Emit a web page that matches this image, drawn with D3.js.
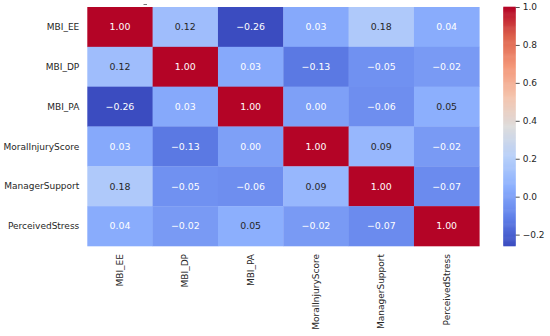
<!DOCTYPE html>
<html>
<head>
<meta charset="utf-8">
<script src="https://cdn.jsdelivr.net/npm/d3@7"></script>
<style>
  html, body { margin: 0; padding: 0; background: #fff; }
  svg { display: block; font-family: "DejaVu Sans", sans-serif; }
</style>
</head>
<body>
<div id="chart"></div>
<script>
(function() {
  "use strict";

  var variables = ["MBI_EE", "MBI_DP", "MBI_PA", "MoralInjuryScore", "ManagerSupport", "PerceivedStress"];

  var rowMBI_EE = [1.00, 0.12, -0.26, 0.03, 0.18, 0.04];
  var rowMBI_DP = [0.12, 1.00, 0.03, -0.13, -0.05, -0.02];
  var rowMBI_PA = [-0.26, 0.03, 1.00, 0.00, -0.06, 0.05];
  var rowMoral = [0.03, -0.13, 0.00, 1.00, 0.09, -0.02];
  var rowManager = [0.18, -0.05, -0.06, 0.09, 1.00, -0.07];
  var rowStress = [0.04, -0.02, 0.05, -0.02, -0.07, 1.00];

  var colorbarTicks = [-0.2, 0.0, 0.2, 0.4, 0.6, 0.8, 1.0];

  var matrix = [rowMBI_EE, rowMBI_DP, rowMBI_PA, rowMoral, rowManager, rowStress];

  var width = 550, height = 336;
  var left = 87.3, right = 479.3, top = 7, bottom = 246;

  // approximation of matplotlib "coolwarm"
  var coolwarm = d3.piecewise(d3.interpolateRgb, [
    "rgb(59,76,192)", "rgb(98,130,234)", "rgb(141,176,254)", "rgb(184,208,249)",
    "rgb(221,220,220)", "rgb(244,196,173)", "rgb(244,152,122)", "rgb(221,99,77)",
    "rgb(180,4,38)"
  ]);

  var flat = d3.merge(matrix);
  var vmin = d3.min(flat), vmax = d3.max(flat);
  var color = d3.scaleSequential(coolwarm).domain([vmin, vmax]);

  var x = d3.scaleBand().domain(variables).range([left, right]);
  var y = d3.scaleBand().domain(variables).range([top, bottom]);

  var svg = d3.select("#chart").append("svg")
    .attr("width", width)
    .attr("height", height);

  function luminance(c) {
    var rgb = d3.rgb(c);
    var lin = [rgb.r, rgb.g, rgb.b].map(function(v) {
      v = v / 255;
      return v <= 0.03928 ? v / 12.92 : Math.pow((v + 0.055) / 1.055, 2.4);
    });
    return 0.2126 * lin[0] + 0.7152 * lin[1] + 0.0722 * lin[2];
  }

  function fmt(v) {
    return d3.format(".2f")(v).replace("-", "\u2212");
  }

  var cells = [];
  matrix.forEach(function(row, i) {
    row.forEach(function(v, j) {
      cells.push({ row: variables[i], col: variables[j], value: v });
    });
  });

  var cellG = svg.append("g").attr("class", "cells");

  cellG.selectAll("rect")
    .data(cells)
    .enter()
    .append("rect")
    .attr("x", function(d) { return x(d.col); })
    .attr("y", function(d) { return y(d.row); })
    .attr("width", x.bandwidth() + 0.3)
    .attr("height", y.bandwidth() + 0.3)
    .attr("fill", function(d) { return color(d.value); });

  cellG.selectAll("text")
    .data(cells)
    .enter()
    .append("text")
    .attr("x", function(d) { return x(d.col) + x.bandwidth() / 2; })
    .attr("y", function(d) { return y(d.row) + y.bandwidth() / 2; })
    .attr("dy", "0.36em")
    .attr("text-anchor", "middle")
    .attr("font-size", 9.4)
    .attr("fill", function(d) {
      return luminance(color(d.value)) > 0.425 ? "#262626" : "#ffffff";
    })
    .text(function(d) { return fmt(d.value); });

  /* ------- AXIS LABELS -------*/

  svg.append("g")
    .selectAll("text")
    .data(variables)
    .enter()
    .append("text")
    .attr("x", left - 8)
    .attr("y", function(d) { return y(d) + y.bandwidth() / 2; })
    .attr("dy", "0.35em")
    .attr("text-anchor", "end")
    .attr("font-size", 9)
    .attr("fill", "#262626")
    .text(function(d) { return d; });

  svg.append("g")
    .selectAll("text")
    .data(variables)
    .enter()
    .append("text")
    .attr("transform", function(d) {
      return "translate(" + (x(d) + x.bandwidth() / 2) + "," + (bottom + 8) + ") rotate(-90)";
    })
    .attr("dy", "0.35em")
    .attr("text-anchor", "end")
    .attr("font-size", 9)
    .attr("fill", "#262626")
    .text(function(d) { return d; });

  // stray tick mark at the top
  svg.append("line")
    .attr("x1", 143.5).attr("x2", 147)
    .attr("y1", 4.5).attr("y2", 4.5)
    .attr("stroke", "#555")
    .attr("stroke-width", 0.8);

  /* ------- COLORBAR -------*/

  var cbX = 503.3, cbW = 12.4;
  var cbY = d3.scaleLinear().domain([vmin, vmax]).range([bottom, top]);

  var steps = d3.range(0, 256).map(function(i) {
    return vmin + (vmax - vmin) * i / 256;
  });
  var stepH = (bottom - top) / 256;

  var cb = svg.append("g").attr("class", "colorbar");
  cb.selectAll("rect")
    .data(steps)
    .enter()
    .append("rect")
    .attr("x", cbX)
    .attr("width", cbW)
    .attr("y", function(d) { return cbY(d) - stepH - 0.3; })
    .attr("height", stepH + 0.6)
    .attr("fill", function(d) { return color(d + (vmax - vmin) / 512); });

  var cbAxis = d3.axisRight(cbY)
    .tickValues(colorbarTicks)
    .tickSize(4)
    .tickPadding(3)
    .tickFormat(function(d) { return d3.format(".1f")(d).replace("-", "\u2212"); });

  var axisG = svg.append("g")
    .attr("transform", "translate(" + (cbX + cbW) + ",0)")
    .call(cbAxis);
  axisG.select(".domain").remove();
  axisG.selectAll("line").attr("stroke", "#262626").attr("stroke-width", 0.8);
  axisG.selectAll("text")
    .attr("font-size", 9)
    .attr("font-family", "DejaVu Sans, sans-serif")
    .attr("fill", "#262626");
})();
</script>
</body>
</html>
